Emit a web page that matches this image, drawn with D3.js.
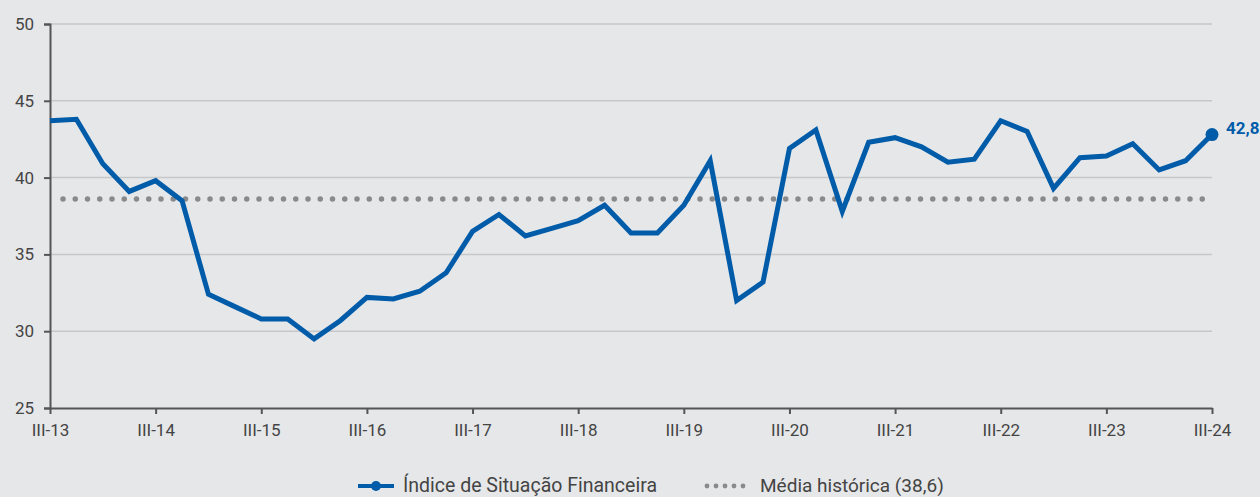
<!DOCTYPE html>
<html>
<head>
<meta charset="utf-8">
<script src="https://cdn.jsdelivr.net/npm/d3@7"></script>
<style>
  body { margin: 0; background: #e6e7e9; }
  svg text { font-family: "Roboto", "Liberation Sans", sans-serif; }
</style>
</head>
<body>
<div id="chart"></div>
<script>
// quarterly data, III-13 .. III-24
var quarters = [
  "III-13","IV-13","I-14","II-14","III-14","IV-14","I-15","II-15","III-15","IV-15",
  "I-16","II-16","III-16","IV-16","I-17","II-17","III-17","IV-17","I-18","II-18",
  "III-18","IV-18","I-19","II-19","III-19","IV-19","I-20","II-20","III-20","IV-20",
  "I-21","II-21","III-21","IV-21","I-22","II-22","III-22","IV-22","I-23","II-23",
  "III-23","IV-23","I-24","II-24","III-24"
];
var indexValues = [
  43.7, 43.8, 40.9, 39.1, 39.8, 38.5, 32.4, 31.6, 30.8, 30.8,
  29.5, 30.7, 32.2, 32.1, 32.6, 33.8, 36.5, 37.6, 36.2, 36.7,
  37.2, 38.2, 36.4, 36.4, 38.2, 41.1, 32.0, 33.2, 41.9, 43.1,
  37.8, 42.3, 42.6, 42.0, 41.0, 41.2, 43.7, 43.0, 39.3, 41.3,
  41.4, 42.2, 40.5, 41.1, 42.8
];
var historicMean = 38.6;
var xTickLabels = ["III-13","III-14","III-15","III-16","III-17","III-18","III-19","III-20","III-21","III-22","III-23","III-24"];
var yTicks = [25, 30, 35, 40, 45, 50];

var width = 1260;
var height = 497;
var margin = { top: 24, right: 48, bottom: 89, left: 50 };

var svg = d3.select("#chart").append("svg")
  .attr("width", width)
  .attr("height", height);

svg.append("rect")
  .attr("width", width)
  .attr("height", height)
  .attr("fill", "#e6e7e9");

var x = d3.scalePoint()
  .domain(quarters)
  .range([margin.left, width - margin.right]);

var y = d3.scaleLinear()
  .domain([25, 50])
  .range([height - margin.bottom, margin.top]);

// gridlines
svg.append("g")
  .selectAll("line")
  .data(yTicks.slice(1))
  .join("line")
  .attr("x1", margin.left)
  .attr("x2", width - margin.right)
  .attr("y1", d => y(d))
  .attr("y2", d => y(d))
  .attr("stroke", "#c6c7c9")
  .attr("stroke-width", 1.5);

// y axis
var yAxis = svg.append("g")
  .attr("transform", "translate(" + margin.left + ",0)")
  .call(d3.axisLeft(y).tickValues(yTicks).tickSize(6).tickPadding(10));
yAxis.select(".domain").attr("stroke", "#555").attr("stroke-width", 2);
yAxis.selectAll(".tick line").attr("stroke", "#555").attr("stroke-width", 2);
yAxis.selectAll(".tick text")
  .attr("fill", "#444")
  .style("font-size", "17px");

// x axis
var xAxis = svg.append("g")
  .attr("transform", "translate(0," + y(25) + ")")
  .call(d3.axisBottom(x).tickValues(xTickLabels).tickSize(6).tickSizeOuter(0).tickPadding(10));
xAxis.select(".domain").attr("stroke", "#555").attr("stroke-width", 2);
xAxis.selectAll(".tick line").attr("stroke", "#555").attr("stroke-width", 2);
xAxis.selectAll(".tick text")
  .attr("fill", "#444")
  .style("font-size", "17px");

// historic mean, dotted
svg.append("line")
  .attr("x1", 63)
  .attr("x2", x(quarters[quarters.length - 1]) - 5)
  .attr("y1", y(historicMean))
  .attr("y2", y(historicMean))
  .attr("stroke", "#8a8a8a")
  .attr("stroke-width", 5.5)
  .attr("stroke-linecap", "round")
  .attr("stroke-dasharray", "0 12.25");

// main line
var line = d3.line()
  .x((d, i) => x(quarters[i]))
  .y(d => y(d));

svg.append("path")
  .datum(indexValues)
  .attr("d", line)
  .attr("fill", "none")
  .attr("stroke", "#005ca9")
  .attr("stroke-width", 5)
  .attr("stroke-linejoin", "miter");

// last value marker
var lastI = indexValues.length - 1;
svg.append("circle")
  .attr("cx", x(quarters[lastI]))
  .attr("cy", y(indexValues[lastI]))
  .attr("r", 6.5)
  .attr("fill", "#005ca9");

svg.append("text")
  .attr("x", x(quarters[lastI]) + 14)
  .attr("y", y(indexValues[lastI]) - 1)
  .attr("fill", "#005ca9")
  .style("font-size", "17px")
  .style("font-weight", "bold")
  .text(String(indexValues[lastI]).replace(".", ","));

// legend
var legend = svg.append("g").attr("transform", "translate(0,486)");

legend.append("line")
  .attr("x1", 358).attr("x2", 394)
  .attr("y1", 0).attr("y2", 0)
  .attr("stroke", "#005ca9")
  .attr("stroke-width", 4);
legend.append("circle")
  .attr("cx", 376).attr("cy", 0).attr("r", 5)
  .attr("fill", "#005ca9");
legend.append("text")
  .attr("x", 403).attr("y", 6)
  .attr("fill", "#444")
  .style("font-size", "19.5px")
  .text("Índice de Situação Financeira");

legend.selectAll("circle.dot")
  .data(d3.range(5))
  .join("circle")
  .attr("class", "dot")
  .attr("cx", d => 707 + d * 9)
  .attr("cy", 0)
  .attr("r", 2.4)
  .attr("fill", "#8a8a8a");
legend.append("text")
  .attr("x", 760).attr("y", 6)
  .attr("fill", "#444")
  .style("font-size", "19px")
  .text("Média histórica (38,6)");
</script>
</body>
</html>
